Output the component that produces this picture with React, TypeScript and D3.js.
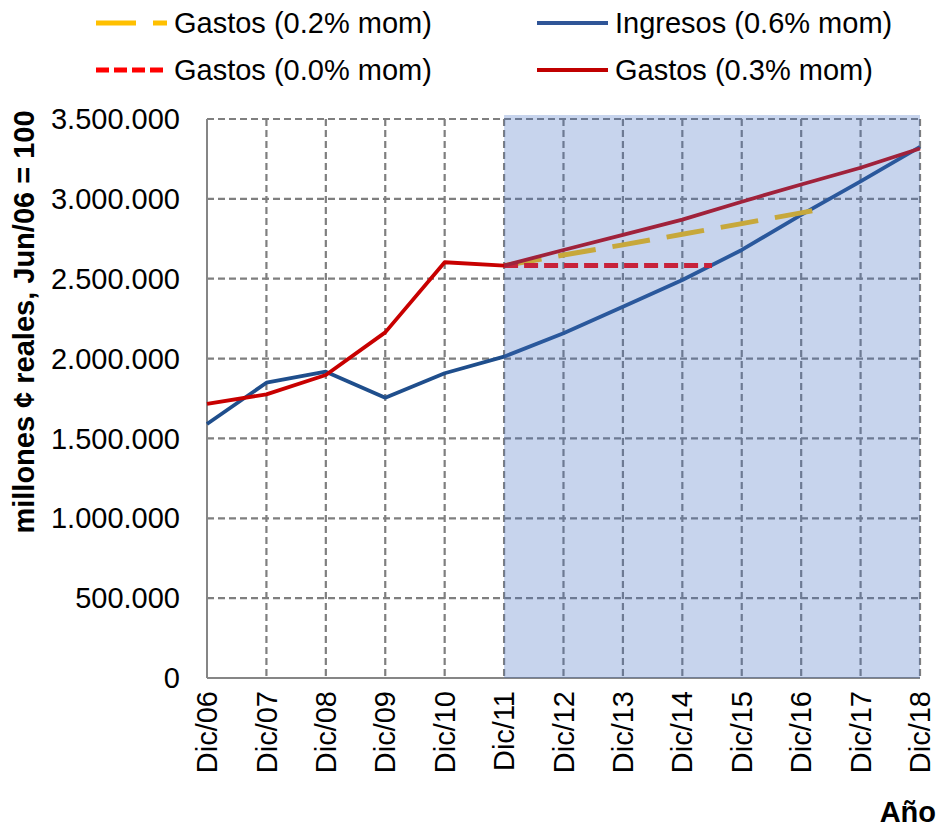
import React, { useEffect, useRef } from 'react';
import * as d3 from 'd3';

// categorías del eje X (diciembre de cada año)
const categories = ['Dic/06', 'Dic/07', 'Dic/08', 'Dic/09', 'Dic/10', 'Dic/11', 'Dic/12',
  'Dic/13', 'Dic/14', 'Dic/15', 'Dic/16', 'Dic/17', 'Dic/18'];

// ingresos (histórico + proyección 0.6% mom)
const ingresos = [1590000, 1849000, 1918000, 1755000, 1908000, 2012000, 2158000,
  2325000, 2492000, 2680000, 2900000, 3110000, 3325000];

// gastos (histórico + proyección 0.3% mom)
const gastos03 = [1716000, 1776000, 1897000, 2164000, 2603000, 2582000, 2680000,
  2774000, 2870000, 2982000, 3090000, 3195000, 3315000];

// gastos 0.2% mom: posición en años desde Dic/06, valor
const gastos02X = [5, 6, 7, 8, 9, 10, 10.25];
const gastos02 = [2582000, 2648000, 2712000, 2778000, 2845000, 2912000, 2930000];

// gastos 0.0% mom
const gastos00X = [5, 8.5];
const gastos00 = [2582000, 2582000];

const yTicks = [0, 500000, 1000000, 1500000, 2000000, 2500000, 3000000, 3500000];
const proyeccion = [5, 12]; // tramo sombreado (índices)

const FONT = 'Liberation Sans, Arial, sans-serif';

const App = () => {
  const svgRef = useRef(null);

  useEffect(() => {
    const svg = d3.select(svgRef.current);
    svg.selectAll('*').remove();

    const width = 941;
    const height = 827;
    const margin = { top: 119, right: 21, bottom: 149, left: 207 };

    const x = d3.scaleLinear().domain([0, categories.length - 1]).range([margin.left, width - margin.right]);
    const y = d3.scaleLinear().domain([0, 3500000]).range([height - margin.bottom, margin.top]);

    const fmt = d3.formatLocale({ decimal: ',', thousands: '.', grouping: [3], currency: ['', ''] }).format(',.0f');

    const grid = '#7f7f7f';

    // líneas de cuadrícula horizontales
    svg.append('g')
      .selectAll('line')
      .data(yTicks.filter(d => d > 0))
      .enter()
      .append('line')
      .attr('x1', x(0)).attr('x2', x(categories.length - 1))
      .attr('y1', d => y(d)).attr('y2', d => y(d))
      .attr('stroke', grid).attr('stroke-width', 2.2).attr('stroke-dasharray', '7 4');

    // líneas de cuadrícula verticales
    svg.append('g')
      .selectAll('line')
      .data(categories.slice(1))
      .enter()
      .append('line')
      .attr('x1', (d, i) => x(i + 1)).attr('x2', (d, i) => x(i + 1))
      .attr('y1', y(3500000)).attr('y2', y(0))
      .attr('stroke', grid).attr('stroke-width', 2.2).attr('stroke-dasharray', '7 4');

    // ejes
    svg.append('line')
      .attr('x1', x(0)).attr('x2', x(0)).attr('y1', y(3500000)).attr('y2', y(0))
      .attr('stroke', '#868686').attr('stroke-width', 2);
    svg.append('line')
      .attr('x1', x(0)).attr('x2', x(categories.length - 1)).attr('y1', y(0)).attr('y2', y(0))
      .attr('stroke', '#868686').attr('stroke-width', 2);

    const line = d3.line().x(d => x(d[0])).y(d => y(d[1]));

    const series = [
      { pts: ingresos.map((v, i) => [i, v]), color: '#1F4E8C', w: 3.8, dash: null },
      { pts: gastos02.map((v, i) => [gastos02X[i], v]), color: '#FFC000', w: 5, dash: '38 17' },
      { pts: gastos00.map((v, i) => [gastos00X[i], v]), color: '#FF0000', w: 5, dash: '14 6' },
      { pts: gastos03.map((v, i) => [i, v]), color: '#C80000', w: 3.8, dash: null },
    ];

    series.forEach(s => {
      svg.append('path')
        .datum(s.pts)
        .attr('d', line)
        .attr('fill', 'none')
        .attr('stroke', s.color)
        .attr('stroke-width', s.w)
        .attr('stroke-dasharray', s.dash)
        .attr('stroke-linejoin', 'round');
    });

    // sombreado de la proyección (encima de las líneas)
    svg.append('rect')
      .attr('x', x(proyeccion[0]))
      .attr('y', y(3500000) - 4)
      .attr('width', x(proyeccion[1]) - x(proyeccion[0]))
      .attr('height', y(0) - y(3500000) + 4)
      .attr('fill', '#4472C4')
      .attr('fill-opacity', 0.3);

    // etiquetas eje Y
    svg.append('g')
      .selectAll('text')
      .data(yTicks)
      .enter()
      .append('text')
      .attr('x', x(0) - 27)
      .attr('y', d => y(d))
      .attr('dy', '0.35em')
      .attr('text-anchor', 'end')
      .style('font-family', FONT).style('font-size', '29px')
      .attr('fill', '#000')
      .text(d => fmt(d));

    // etiquetas eje X (verticales)
    svg.append('g')
      .selectAll('text')
      .data(categories)
      .enter()
      .append('text')
      .attr('transform', (d, i) => `translate(${x(i)},${y(0) + 13}) rotate(-90)`)
      .attr('dy', '0.35em')
      .attr('text-anchor', 'end')
      .style('font-family', FONT).style('font-size', '29px')
      .text(d => d);

    // títulos de ejes
    svg.append('text')
      .attr('transform', `translate(24,322) rotate(-90)`)
      .attr('dy', '0.35em')
      .attr('text-anchor', 'middle')
      .style('font-family', FONT).style('font-size', '29px').style('font-weight', 'bold')
      .text('millones ¢ reales, Jun/06 = 100');

    svg.append('text')
      .attr('x', 936).attr('y', 822)
      .attr('text-anchor', 'end')
      .style('font-family', FONT).style('font-size', '29px').style('font-weight', 'bold')
      .text('Año');

    // leyenda
    const legend = [
      { label: 'Gastos (0.2% mom)', color: '#FFC000', w: 5, dash: '40 17', lx: 96, ly: 23 },
      { label: 'Ingresos (0.6% mom)', color: '#2F5597', w: 3.8, dash: null, lx: 537, ly: 23 },
      { label: 'Gastos (0.0% mom)', color: '#FF0000', w: 5, dash: '13 5', lx: 96, ly: 70 },
      { label: 'Gastos (0.3% mom)', color: '#C00000', w: 3.8, dash: null, lx: 537, ly: 70 },
    ];
    const lg = svg.append('g');
    legend.forEach(l => {
      lg.append('line')
        .attr('x1', l.lx).attr('x2', l.lx + 71)
        .attr('y1', l.ly).attr('y2', l.ly)
        .attr('stroke', l.color).attr('stroke-width', l.w)
        .attr('stroke-dasharray', l.dash);
      lg.append('text')
        .attr('x', l.lx + 78).attr('y', l.ly)
        .attr('dy', '0.35em')
        .style('font-family', FONT).style('font-size', '29px')
        .text(l.label);
    });
  }, []);

  return (
    <svg ref={svgRef} width={941} height={827}
      style={{ position: 'absolute', left: 0, top: 0, background: '#fff' }} />
  );
};

export default App;
